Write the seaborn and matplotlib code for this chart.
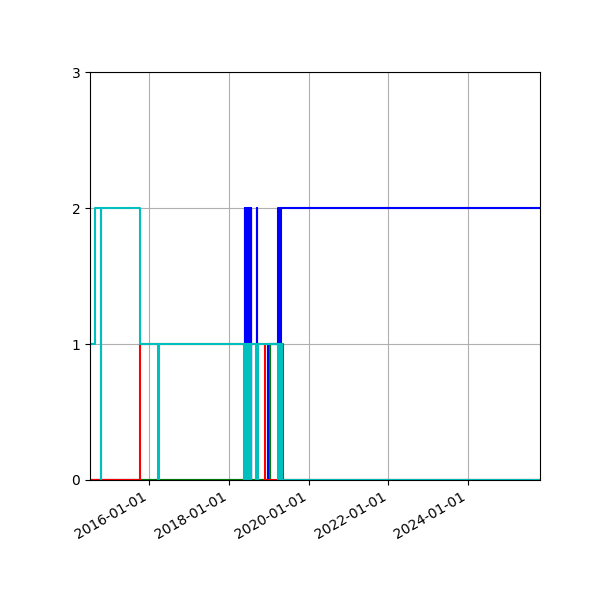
import pandas as pd
import matplotlib
matplotlib.use("Agg")
import matplotlib.pyplot as plt
import matplotlib.dates as mdates
import seaborn as sns

# step series: breakpoint dates and the value held from each date on
start = "2014-07-09"
end = "2025-10-22"

blue_dates = [start, "2018-05-28", "2018-06-01", "2018-06-05", "2018-06-09",
              "2018-06-13", "2018-06-17", "2018-06-21", "2018-06-25",
              "2018-06-29", "2018-07-03", "2018-07-07", "2018-07-11",
              "2018-07-15", "2018-07-19", "2018-07-23", "2018-07-27",
              "2018-09-15", "2018-09-20", "2018-12-26", "2019-03-29",
              "2019-04-05", "2019-04-11", "2019-04-18", "2019-04-26",
              "2019-05-08", end]
blue_values = [0, 2, 0, 2, 0, 2, 0, 2, 0, 2, 0, 2, 0, 2, 0, 2, 0,
               2, 0, 1, 2, 1, 2, 1, 2, 2, 2]

green_dates = [start, "2019-01-13", "2019-05-12", end]
green_values = [0, 1, 0, 0]

red_dates = [start, "2015-10-11", "2018-11-28", end]
red_values = [0, 1, 0, 0]

cyan_dates = [start, "2014-08-24", "2014-10-18", "2014-10-22", "2015-10-11",
              "2016-03-23", "2016-03-28", "2018-05-24", "2018-05-28",
              "2018-06-01", "2018-06-05", "2018-06-09", "2018-06-13",
              "2018-06-17", "2018-06-21", "2018-06-25", "2018-06-29",
              "2018-07-03", "2018-07-07", "2018-07-11", "2018-07-16",
              "2018-07-22", "2018-07-26", "2018-09-09", "2018-09-13",
              "2018-09-19", "2018-09-24", "2019-03-29", "2019-04-04",
              "2019-04-10", "2019-04-16", "2019-04-22", "2019-04-28",
              "2019-05-06", "2019-05-13", end]
cyan_values = [1, 2, 0, 2, 1, 0, 1, 0, 1, 0, 1, 0, 1, 0, 1, 0, 1, 0, 1,
               0, 1, 0, 1, 0, 1, 0, 1, 0, 1, 0, 1, 0, 1, 0, 0, 0]

series = [
    (blue_dates, blue_values, "b"),
    (green_dates, green_values, "g"),
    (red_dates, red_values, "r"),
    (cyan_dates, cyan_values, "c"),
]

fig, ax = plt.subplots(figsize=(6, 6), dpi=100)

for dates, values, color in series:
    df = pd.DataFrame({"date": pd.to_datetime(dates), "value": values})
    sns.lineplot(data=df, x="date", y="value", color=color, estimator=None,
                 drawstyle="steps-post", linewidth=1.5, ax=ax)

ax.set_xlim(pd.Timestamp(start), pd.Timestamp(end))
ax.set_ylim(0, 3)
ax.set_yticks([0, 1, 2, 3])
ax.xaxis.set_major_locator(mdates.YearLocator(2))
ax.xaxis.set_major_formatter(mdates.DateFormatter("%Y-%m-%d"))
ax.set_xlabel("")
ax.set_ylabel("")
ax.grid(True)

fig.autofmt_xdate()
fig.subplots_adjust(left=0.15, right=0.9, bottom=0.2, top=0.88)

plt.savefig("out.png", dpi=100)
plt.close()
